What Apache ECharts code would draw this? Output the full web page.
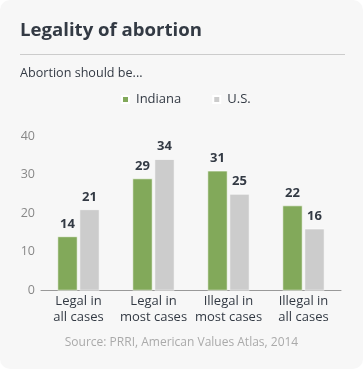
<!DOCTYPE html>
<html><head><meta charset="utf-8">
<script src="https://cdn.jsdelivr.net/npm/echarts@6/dist/echarts.min.js"></script>
<style>
html,body{margin:0;padding:0;background:#fff;}
#c{width:363px;height:369px;background:#f7f7f7;border-radius:10px;overflow:hidden;}
</style></head><body>
<div id="c"></div>
<script>
const categories = ['Legal in\nall cases', 'Legal in\nmost cases', 'Illegal in\nmost cases', 'Illegal in\nall cases'];
const indiana = [14, 29, 31, 22];
const us = [21, 34, 25, 16];
const yTicks = [0, 10, 20, 30, 40];

const chart = echarts.init(document.getElementById('c'), null, {renderer: 'canvas'});
const font = '"Open Sans", sans-serif';
chart.setOption({
  backgroundColor: 'transparent',
  animation: false,
  textStyle: {fontFamily: font},
  graphic: [
    {type: 'text', left: 20, top: 21, style: {text: 'Legality of abortion', font: 'bold 18.6px "Open Sans"', fill: '#333a44'}},
    {type: 'line', shape: {x1: 20, y1: 54.5, x2: 345, y2: 54.5}, style: {stroke: '#cccccc', lineWidth: 1}},
    {type: 'text', left: 20, top: 67, style: {text: 'Abortion should be...', font: '12.6px "Open Sans"', fill: '#333a44'}},
    {type: 'text', left: 'center', top: 337, style: {text: 'Source: PRRI, American Values Atlas, 2014', font: '12px "Open Sans"', fill: '#aaaaaa'}}
  ],
  legend: {
    left: 121, top: 93, padding: 0,
    itemWidth: 7, itemHeight: 7, itemGap: 31,
    icon: 'rect',
    textStyle: {fontFamily: font, fontSize: 13, color: '#333a44', padding: [0, 0, 0, 2]},
    data: ['Indiana', 'U.S.']
  },
  grid: {left: 41, right: 22, top: 136, bottom: 78.5, containLabel: false},
  xAxis: {
    type: 'category', data: categories,
    axisLine: {lineStyle: {color: '#999', width: 1}},
    axisTick: {show: false},
    axisLabel: {fontFamily: font, fontSize: 13, color: '#333a44', lineHeight: 16, margin: 3, interval: 0}
  },
  yAxis: {
    type: 'value', min: yTicks[0], max: yTicks[yTicks.length - 1], interval: 10,
    splitLine: {show: false},
    axisLine: {show: false}, axisTick: {show: false},
    axisLabel: {fontFamily: font, fontSize: 12.5, color: '#888', margin: 6}
  },
  series: [
    {name: 'Indiana', type: 'bar', data: indiana, barWidth: 20, barGap: '10%',
     itemStyle: {color: '#82a95a', borderColor: '#ffffff', borderWidth: 0.6},
     label: {show: true, position: 'top', distance: 6, fontFamily: font, fontWeight: 'bold', fontSize: 13, color: '#333a44'}},
    {name: 'U.S.', type: 'bar', data: us, barWidth: 20,
     itemStyle: {color: '#cccccc', borderColor: '#ffffff', borderWidth: 0.6},
     label: {show: true, position: 'top', distance: 6, fontFamily: font, fontWeight: 'bold', fontSize: 13, color: '#333a44'}}
  ]
});
</script>
</body></html>
